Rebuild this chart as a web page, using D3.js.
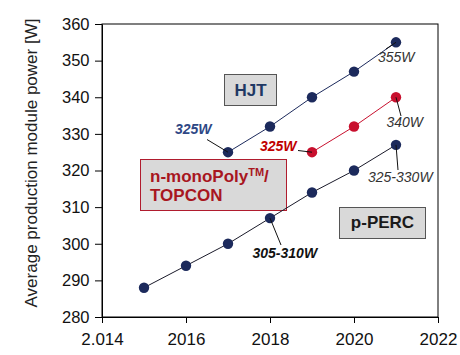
<!DOCTYPE html>
<html>
<head>
<meta charset="utf-8">
<script src="https://cdn.jsdelivr.net/npm/d3@7"></script>
<style>
  html, body { margin: 0; padding: 0; background: #fff; }
  svg { display: block; font-family: "Liberation Sans", Arial, Helvetica, sans-serif; }
</style>
</head>
<body>
<svg id="chart" width="460" height="355"></svg>
<script>
// ---- data ----
const yearsPERC = [2015, 2016, 2017, 2018, 2019, 2020, 2021];
const valuesPERC = [288, 294, 300, 307, 314, 320, 327];
const yearsHJT = [2017, 2018, 2019, 2020, 2021];
const valuesHJT = [325, 332, 340, 347, 355];
const yearsTOPCON = [2019, 2020, 2021];
const valuesTOPCON = [325, 332, 340];
const xTickValues = [2014, 2016, 2018, 2020, 2022];
const xTickLabels = ["2.014", "2016", "2018", "2020", "2022"];
const yTickValues = [280, 290, 300, 310, 320, 330, 340, 350, 360];
const yTitle = "Average production module power [W]";
const seriesNames = ["HJT", "n-monoPoly", "TOPCON", "p-PERC"];
const annotationTexts = ["355W", "340W", "325-330W", "305-310W", "325W", "325W"];

// ---- layout ----
const svg = d3.select("#chart");
const L = 102, R = 438, T = 24, B = 317;
const x = d3.scaleLinear().domain([2014, 2022]).range([L, R]);
const y = d3.scaleLinear().domain([280, 360]).range([B, T]);

const NAVY = "#1c2a5c", RED = "#c8102e";

// frame
svg.append("rect").attr("x", L).attr("y", T).attr("width", R - L).attr("height", B - T)
  .attr("fill", "none").attr("stroke", "#000").attr("stroke-width", 1);

// axes
const yAxis = svg.append("g").attr("transform", `translate(${L},0)`)
  .call(d3.axisLeft(y).tickValues(yTickValues).tickSize(7).tickSizeOuter(0).tickPadding(5.5));
const xAxis = svg.append("g").attr("transform", `translate(0,${B})`)
  .call(d3.axisBottom(x).tickValues(xTickValues).tickFormat((d, i) => xTickLabels[i])
    .tickSize(6).tickSizeOuter(0).tickPadding(10));
[yAxis, xAxis].forEach(g => {
  g.select(".domain").attr("stroke", "#000");
  g.selectAll(".tick line").attr("stroke", "#000");
  g.selectAll("text").attr("fill", "#111").style("font-family", '"Liberation Sans", Arial, sans-serif');
});
yAxis.selectAll("text").attr("font-size", 16.5);
xAxis.selectAll("text").attr("font-size", 17);

// y title
svg.append("text").attr("transform", `translate(37,163) rotate(-90)`)
  .attr("text-anchor", "middle").attr("font-size", 17).attr("fill", "#222").text(yTitle);

// ---- boxes ----
function box(x0, y0, w, h, stroke) {
  svg.append("rect").attr("x", x0).attr("y", y0).attr("width", w).attr("height", h)
    .attr("fill", "#d9d9d9").attr("stroke", stroke).attr("stroke-width", 1);
}
box(224.5, 74.5, 52, 31, "#555");
svg.append("text").attr("x", 250.5).attr("y", 96).attr("text-anchor", "middle")
  .attr("font-size", 17).attr("font-weight", "bold").attr("fill", "#1f3864").text(seriesNames[0]);

box(140.5, 159.5, 146, 51, "#b01c2e");
const t1 = svg.append("text").attr("x", 150).attr("y", 182).attr("font-size", 17)
  .attr("font-weight", "bold").attr("fill", "#a8161f");
t1.append("tspan").text(seriesNames[1]);
t1.append("tspan").attr("font-size", 11).attr("dy", -6).text("TM");
t1.append("tspan").attr("dy", 6).text("/");
svg.append("text").attr("x", 150).attr("y", 200.5).attr("font-size", 17)
  .attr("font-weight", "bold").attr("fill", "#a8161f").text(seriesNames[2]);

box(339.5, 207.5, 86, 31, "#555");
svg.append("text").attr("x", 382.5).attr("y", 228).attr("text-anchor", "middle")
  .attr("font-size", 17).attr("font-weight", "bold").attr("fill", "#1a1a1a").text(seriesNames[3]);

// ---- series ----
function series(years, vals, lineColor, dotColor) {
  const pts = years.map((d, i) => [d, vals[i]]);
  svg.append("path").datum(pts)
    .attr("d", d3.line().x(d => x(d[0])).y(d => y(d[1])))
    .attr("fill", "none").attr("stroke", lineColor).attr("stroke-width", 1);
  svg.selectAll(null).data(pts).enter().append("circle")
    .attr("cx", d => x(d[0])).attr("cy", d => y(d[1])).attr("r", 5.2).attr("fill", dotColor);
}
series(yearsPERC, valuesPERC, "#1a1a2a", NAVY);
series(yearsHJT, valuesHJT, NAVY, NAVY);
series(yearsTOPCON, valuesTOPCON, RED, RED);

// ---- annotations (leaders from data points) ----
function annot(px, py, lx, ly, tx, ty, text, color, weight) {
  svg.append("line").attr("x1", px).attr("y1", py).attr("x2", lx).attr("y2", ly)
    .attr("stroke", "#111").attr("stroke-width", 1);
  svg.append("text").attr("x", tx).attr("y", ty).attr("font-size", 14)
    .attr("font-style", "italic").attr("font-weight", weight).attr("fill", color).text(text);
}
const last = a => a[a.length - 1];
annot(x(last(yearsHJT)), y(last(valuesHJT)), 386, 49, 378, 62, annotationTexts[0], "#333", "normal");
annot(x(last(yearsTOPCON)), y(last(valuesTOPCON)), 401, 116, 386.5, 127, annotationTexts[1], "#333", "normal");
annot(x(last(yearsPERC)), y(last(valuesPERC)), 398, 170, 368, 182, annotationTexts[2], "#333", "normal");
annot(x(yearsPERC[3]), y(valuesPERC[3]), 281, 245, 252.5, 258, annotationTexts[3], "#111", "bold");
annot(x(yearsHJT[0]), y(valuesHJT[0]), 207, 139.5, 175, 133.5, annotationTexts[4], "#2e4785", "bold");
annot(x(yearsTOPCON[0]), y(valuesTOPCON[0]), 298, 150.5, 260, 151, annotationTexts[5], "#c00000", "bold");
</script>
</body>
</html>
